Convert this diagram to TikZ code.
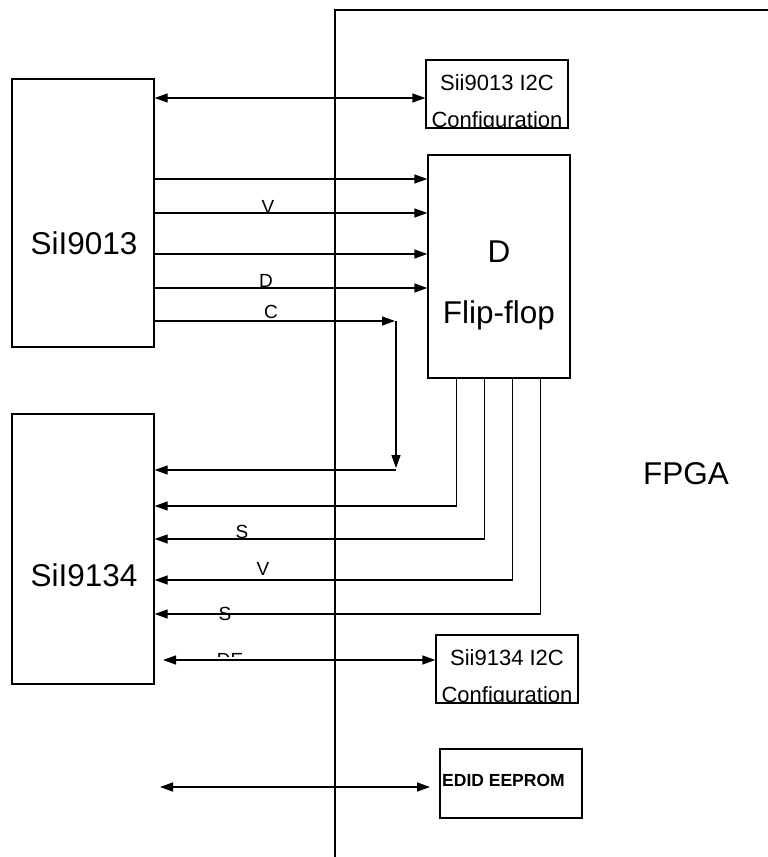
\documentclass[tikz,border=0pt]{standalone}
\usepackage{fontspec}
\setmainfont{Liberation Sans}
\usetikzlibrary{arrows.meta,calc}
\begin{document}
\begin{tikzpicture}[x=1pt,y=-1pt,
  box/.style={draw,line width=1.4pt,inner sep=0pt,fill=white},
  wire/.style={line width=1.4pt},
  arr/.style={wire,-{Triangle[length=13pt,width=9pt]}},
  darr/.style={wire,{Triangle[length=13pt,width=9pt]}-{Triangle[length=13pt,width=9pt]}},
  big/.style={font=\fontsize{31.5}{37}\selectfont,anchor=base,inner sep=0pt},
  mid/.style={font=\fontsize{22}{26}\selectfont,anchor=base,inner sep=0pt},
  lbl/.style={font=\fontsize{19}{22}\selectfont,anchor=base,inner sep=0pt},
]
\useasboundingbox[fill=white] (0,0) rectangle (768,857);

% FPGA boundary
\coordinate (fb) at (335,857);
\coordinate (ft) at (335,10);
\coordinate (fr) at (768,10);
\draw[wire] (fb) -- (ft) -- (fr);
\node[big] (fpga) at (686,484) {FPGA};

% boxes
\node[box,minimum width=142pt,minimum height=268pt] (s13) at (83,213) {};
\node[box,minimum width=142pt,minimum height=270pt] (s34) at (83,549) {};
\node[box,minimum width=142pt,minimum height=68pt] (i2c13) at (497,94) {};
\node[box,minimum width=142pt,minimum height=223pt] (ff) at (499,266.5) {};
\node[box,minimum width=142pt,minimum height=68pt] (i2c34) at (507,669) {};
\node[box,minimum width=142pt,minimum height=69pt] (edid) at (511,783.5) {};

\node[big] (t13) at (84,254) {SiI9013};
\node[big] (t34) at (84,586) {SiI9134};
\node[big] (tD) at (499,262) {D};
\node[big] (tF) at (499,323) {Flip-flop};
\begin{scope}
\clip (i2c13.south west) rectangle (i2c13.north east);
\node[mid] (a1) at (497,90) {Sii9013 I2C};
\node[mid] (a2) at (497,127) {Configuration};
\end{scope}
\begin{scope}
\clip (i2c34.south west) rectangle (i2c34.north east);
\node[mid] (b1) at (507,665) {Sii9134 I2C};
\node[mid] (b2) at (507,702) {Configuration};
\end{scope}
\node[font=\fontsize{17.5}{20}\selectfont\bfseries,anchor=base west,inner sep=0pt] (te) at (442,786) {EDID EEPROM};

% I2C link
\draw[darr] (s13.east |- 0,98) -- (i2c13.west |- 0,98);

% inputs to flip-flop
\draw[arr] (s13.east |- 0,179) -- (ff.west |- 0,179);
\draw[arr] (s13.east |- 0,213) -- (ff.west |- 0,213);
\draw[arr] (s13.east |- 0,254) -- (ff.west |- 0,254);
\draw[arr] (s13.east |- 0,288) -- (ff.west |- 0,288);

% C path
\coordinate (cr) at (396,321);
\coordinate (cd) at (396,470);
\draw[arr] (s13.east |- cr) -- ([xshift=-1pt]cr);
\draw[arr] (cr) -- ([yshift=2pt]cd);
\draw[arr] (cd) -- (s34.east |- cd);

% outputs
\draw[arr] ([xshift=29pt]ff.south west) |- (s34.east |- 0,506);
\draw[arr] ([xshift=57pt]ff.south west) |- (s34.east |- 0,539);
\draw[arr] ([xshift=85pt]ff.south west) |- (s34.east |- 0,580);
\draw[arr] ([xshift=113pt]ff.south west) |- (s34.east |- 0,614);

% labels
\node[lbl] (lV1) at (268,213) {V};
\node[lbl] (lD) at (266,287) {D};
\node[lbl] (lC) at (271,318) {C};
\node[lbl] (lS1) at (242,538) {S};
\node[lbl] (lV2) at (263,575) {V};
\node[lbl] (lS2) at (225,620) {S};
\begin{scope}
\clip (200,640) rectangle (260,656);
\node[lbl] (lDE) at (230,666) {DE};
\end{scope}

% I2C of SiI9134 and EEPROM
\coordinate (deL) at (163,660);
\draw[darr] (deL) -- (i2c34.west |- deL);
\coordinate (edL) at (160,787);
\coordinate (edR) at (430,787);
\draw[darr] (edL) -- (edR);
\end{tikzpicture}
\end{document}
